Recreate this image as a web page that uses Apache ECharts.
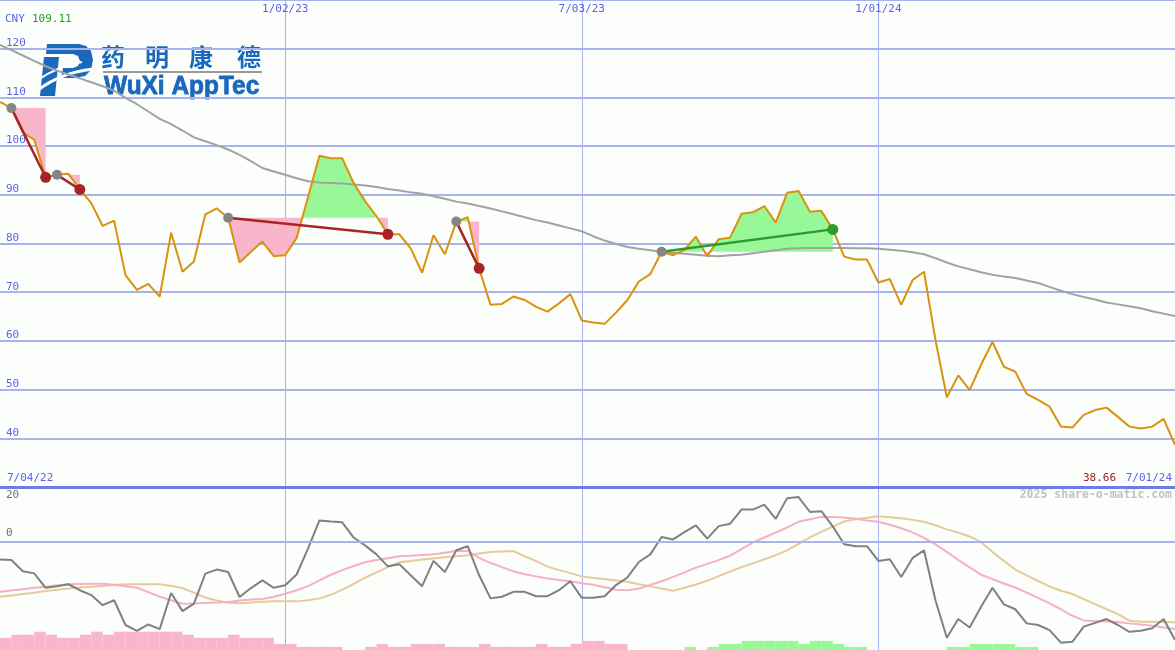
<!DOCTYPE html>
<html><head><meta charset="utf-8">
<script src="https://cdn.jsdelivr.net/npm/echarts@6/dist/echarts.min.js"></script>
<style>html,body{margin:0;padding:0;background:#fcfefc;}#c{width:1175px;height:650px;}</style>
</head><body><div id="c"></div>
<script>
// ---------- DATA ----------
const startDateUTC = Date.UTC(2022, 6, 11); // first weekly point (Monday)
const weekCount = 104;
const dateTickIdx = [25, 51, 77]; // 1/02/23, 7/03/23, 1/01/24

const price = [109.1,107.8,102.8,101.3,93.6,94.1,94.3,91.1,88.3,83.6,
  84.7,73.5,70.5,71.7,69.1,82.2,74.2,76.3,86.0,87.2,
  85.3,76.1,78.3,80.4,77.4,77.6,81.1,89.5,98.0,97.5,
  97.5,92.4,88.7,85.6,81.9,81.9,79.0,74.0,81.7,77.8,
  84.5,85.4,74.9,67.4,67.6,69.1,68.4,67.0,66.0,67.7,
  69.6,64.2,63.8,63.5,65.8,68.4,72.2,73.7,78.3,77.6,
  78.7,81.4,77.4,80.9,81.2,86.1,86.4,87.7,84.3,90.4,
  90.8,86.5,86.7,82.9,77.3,76.7,76.7,72.0,72.7,67.4,
  72.5,74.2,60.2,48.4,52.9,49.9,55.1,59.8,54.7,53.7,
  49.1,47.9,46.5,42.4,42.2,44.8,45.8,46.3,44.4,42.4,
  42.0,42.4,44.0,38.66];

const movingAvg = [120.8,119.7,118.6,117.5,116.4,115.5,114.7,113.9,113.1,112.3,
  111.4,109.9,108.6,107.1,105.6,104.5,103.2,101.8,101.0,100.2,
  99.3,98.2,96.9,95.5,94.8,94.1,93.4,92.8,92.5,92.4,
  92.3,92.1,91.9,91.6,91.2,90.9,90.5,90.2,89.7,89.2,
  88.6,88.2,87.7,87.2,86.6,86.0,85.4,84.8,84.3,83.7,
  83.1,82.5,81.5,80.6,79.9,79.3,78.9,78.6,78.3,78.1,
  77.9,77.7,77.5,77.4,77.6,77.7,78.0,78.3,78.6,78.9,
  79.0,79.1,79.1,79.1,79.1,79.0,79.0,78.9,78.7,78.5,
  78.2,77.8,77.0,76.1,75.3,74.7,74.1,73.6,73.2,72.9,
  72.4,71.9,71.1,70.3,69.6,69.0,68.5,67.9,67.5,67.1,
  66.7,66.1,65.6,65.1];

const momentum = [-6.7,-6.9,-11.0,-11.8,-17.1,-16.5,-15.8,-18.0,-19.8,-23.5,
  -21.7,-30.8,-33.0,-30.6,-32.3,-19.0,-25.7,-22.9,-11.9,-10.4,
  -11.3,-20.5,-17.2,-14.4,-17.1,-16.2,-12.2,-2.7,7.7,7.3,
  7.0,1.4,-1.5,-4.8,-9.2,-8.4,-12.5,-16.5,-7.2,-11.3,
  -3.3,-1.8,-12.5,-21.0,-20.4,-18.6,-18.6,-20.2,-20.2,-18.0,
  -14.7,-20.8,-20.8,-20.2,-16.1,-13.3,-7.6,-4.8,1.6,0.7,
  3.4,5.9,1.0,5.6,6.5,11.7,11.7,13.5,8.3,15.9,
  16.3,10.8,11.1,5.5,-1.1,-1.8,-1.8,-7.2,-6.6,-13.1,
  -6.1,-3.3,-21.7,-35.5,-28.6,-31.7,-24.1,-17.1,-23.2,-25.0,
  -30.2,-30.8,-32.7,-37.3,-37.0,-31.4,-30.0,-28.6,-30.8,-33.3,
  -32.9,-32.0,-28.6,-36.3];

const signalPink = [-18.6,-18.1,-17.6,-17.1,-16.7,-16.2,-15.8,-15.7,-15.6,-15.6,
  -16.0,-16.5,-17.1,-18.7,-20.4,-21.7,-23.0,-22.9,-22.7,-22.5,
  -22.3,-21.8,-21.4,-21.2,-20.4,-19.3,-18.0,-16.5,-14.4,-12.3,
  -10.6,-9.1,-7.7,-6.9,-6.2,-5.5,-5.3,-5.0,-4.8,-4.2,
  -3.6,-3.6,-6.1,-8.0,-9.5,-11.0,-12.1,-12.9,-13.7,-14.2,
  -14.7,-15.4,-16.0,-16.9,-17.8,-18.0,-17.4,-16.1,-14.7,-13.1,
  -11.4,-9.7,-8.3,-6.9,-5.3,-2.9,-0.4,1.4,3.2,5.1,
  7.2,8.1,9.0,9.0,8.8,8.3,7.7,7.2,6.1,4.8,
  3.3,1.3,-1.1,-3.9,-6.8,-9.6,-12.3,-13.9,-15.5,-17.0,
  -18.9,-20.8,-22.8,-25.0,-27.4,-29.1,-29.3,-29.5,-29.7,-30.2,
  -30.6,-31.1,-31.7,-32.3];

const signalTan = [-20.4,-19.9,-19.4,-18.9,-18.3,-17.8,-17.4,-17.0,-16.7,-16.4,
  -16.1,-15.8,-15.8,-15.8,-15.8,-16.4,-17.2,-18.9,-20.7,-21.8,
  -22.6,-22.8,-22.5,-22.2,-22.1,-22.1,-22.1,-21.7,-21.0,-19.7,
  -17.8,-15.7,-13.4,-11.4,-9.5,-7.7,-7.2,-6.7,-6.3,-5.9,
  -5.5,-5.1,-4.5,-3.9,-3.7,-3.6,-5.5,-7.3,-9.3,-10.6,
  -11.7,-12.9,-13.5,-13.9,-14.4,-14.9,-15.8,-16.5,-17.4,-18.2,
  -17.1,-15.9,-14.5,-12.8,-11.1,-9.5,-8.1,-6.6,-5.1,-3.3,
  -0.9,1.5,3.5,5.4,7.3,8.1,8.7,9.2,8.9,8.5,
  7.9,7.2,5.9,4.4,3.2,1.8,-0.3,-3.9,-7.2,-10.4,
  -12.5,-14.6,-16.6,-18.2,-19.4,-21.3,-23.1,-25.0,-26.8,-29.2,
  -29.6,-29.6,-29.7,-29.8];

const histPink = [4,5,5,6,5,4,4,5,6,5,
  6,6,6,6,6,6,5,4,4,4,
  5,4,4,4,2,2,1,1,1,1,
  0,0,1,2,1,1,2,2,2,1,
  1,1,2,1,1,1,1,2,1,1,
  2,3,3,2,2,0,0,0,0,0,
  0,0,0,0,0,0,0,0,0,0,
  0,0,0,0,0,0,0,0,0,0,
  0,0,0,0,0,0,0,0,0,0,
  0,0,0,0,0,0,0,0,0,0,
  0,0,0,0];
const histGreen = [0,0,0,0,0,0,0,0,0,0,
  0,0,0,0,0,0,0,0,0,0,
  0,0,0,0,0,0,0,0,0,0,
  0,0,0,0,0,0,0,0,0,0,
  0,0,0,0,0,0,0,0,0,0,
  0,0,0,0,0,0,0,0,0,0,
  1,0,1,2,2,3,3,3,3,3,
  2,3,3,2,1,1,0,0,0,0,
  0,0,0,1,1,2,2,2,2,1,
  1,0,0,0,0,0,0,0,0,0,
  0,0,0,0];

const tradeEntry = [1, 5, 20, 40, 58];
const tradeExit  = [4, 7, 34, 42, 73];

const currency = 'CNY';
const firstPriceLabel = '109.11';
const lastPriceLabel = '38.66';
const rangeStartLabel = '7/04/22';
const rangeEndLabel = '7/01/24';
const lowerTicks = [0, -40];
const logoChars = ['药', '明', '康', '德'];
const logoCharX = [101, 145, 189, 237];

// ---------- BUILD ----------
function fmtDate(t){const d=new Date(t);return (d.getUTCMonth()+1)+'/'+String(d.getUTCDate()).padStart(2,'0')+'/'+String(d.getUTCFullYear()%100).padStart(2,'0');}
const categories=[];for(let i=0;i<weekCount;i++){categories.push(fmtDate(startDateUTC+i*7*86400000));}

const GRID='#a7b3f1', LBL='#5864e6', PINK='#f9b6ca', GREEN='#98f898', LOGO='#1a69bd', BG='#fcfefc';
const MONO='"DejaVu Sans Mono", monospace';
const isTick=(i)=>dateTickIdx.indexOf(i)>=0;

function tradeFill(params, api){
  const k=params.dataIndex, a=tradeEntry[k], b=tradeExit[k], L=price[a];
  const pts=[];
  for(let i=a;i<=b;i++){
    const p=api.coord([i,price[i]]);
    pts.push({x:p[0],v:price[i]});
    if(i<b){const v0=price[i],v1=price[i+1];
      if((v0-L)*(v1-L)<0){const t=(L-v0)/(v1-v0);const xn=api.coord([i+1,v1])[0];pts.push({x:p[0]+t*(xn-p[0]),v:L});}}
  }
  const yOf=v=>api.coord([a,v])[1];const yL=yOf(L);
  const x0=pts[0].x,x1=pts[pts.length-1].x;
  const g=pts.map(q=>[q.x,yOf(Math.max(q.v,L))]);g.push([x1,yL],[x0,yL]);
  const pk=pts.map(q=>[q.x,yOf(Math.min(q.v,L))]);pk.push([x1,yL],[x0,yL]);
  return {type:'group',children:[
    {type:'polygon',shape:{points:pk},style:{fill:PINK}},
    {type:'polygon',shape:{points:g},style:{fill:GREEN}}]};
}
function tradeMarks(params, api){
  const k=params.dataIndex,a=tradeEntry[k],b=tradeExit[k];
  const p0=api.coord([a,price[a]]),p1=api.coord([b,price[b]]);
  const col=price[b]>price[a]?'#2c9c2c':'#a82424';
  return {type:'group',children:[
    {type:'line',shape:{x1:p0[0],y1:p0[1],x2:p1[0],y2:p1[1]},style:{stroke:col,lineWidth:2.5}},
    {type:'circle',shape:{cx:p0[0],cy:p0[1],r:5},style:{fill:'#858585'}},
    {type:'circle',shape:{cx:p1[0],cy:p1[1],r:5.5},style:{fill:col}}]};
}
function histItem(params, api){
  const i=params.dataIndex;const vp=histPink[i],vg=histGreen[i];
  const v=vp||vg;if(!v)return null;
  const p0=api.coord([i,0]),p1=api.coord([i,v]);const w=api.size([1,0])[0];
  return {type:'rect',shape:{x:p0[0],y:p1[1],width:w,height:p0[1]-p1[1]},style:{fill:vp?PINK:GREEN}};
}

const logoGraphics=[
  {type:'polygon',shape:{points:[[47,44],[79,44],[86,46],[91,51],[93,60],[91,70],[85,76],[75,78],[61,78],[63,68],[73,68],[78,66],[80,61],[78,56],[73,54],[46,54]]},style:{fill:LOGO}},
  {type:'polygon',shape:{points:[[44,57],[59,57],[55,96],[40,96]]},style:{fill:LOGO}},
  {type:'bezierCurve',shape:{x1:38,y1:90,cpx1:62,cpy1:72,x2:94,y2:69},style:{stroke:BG,lineWidth:3,fill:null}},
  {type:'bezierCurve',shape:{x1:38,y1:80,cpx1:58,cpy1:66,x2:82,y2:62},style:{stroke:BG,lineWidth:2,fill:null}},
  {type:'rect',shape:{x:103,y:71,width:159,height:2},style:{fill:'#9a9a9a'}},
  {type:'text',x:104,y:74,scaleX:0.94,style:{text:'WuXi AppTec',fill:LOGO,stroke:LOGO,lineWidth:0.8,font:'bold 26px "Liberation Sans"'}}
].concat(logoChars.map((c,i)=>({type:'text',x:logoCharX[i],y:45,style:{text:c,fill:LOGO,font:'bold 24px "Noto Sans CJK SC"'}})));

const chart=echarts.init(document.getElementById('c'),null,{renderer:'canvas'});
const option={
  animation:false,
  backgroundColor:BG,
  grid:[{left:0,right:0,top:-1,height:488},{left:0,right:0,top:487,height:163}],
  xAxis:[
    {type:'category',gridIndex:0,data:categories,boundaryGap:false,position:'top',
     axisLine:{show:false},axisTick:{show:false},
     axisLabel:{inside:true,interval:(i)=>isTick(i),margin:4,color:LBL,fontFamily:MONO,fontSize:11},
     splitLine:{show:true,interval:(i)=>isTick(i),lineStyle:{color:GRID,width:1}}},
    {type:'category',gridIndex:1,data:categories,boundaryGap:false,
     axisLine:{show:false},axisTick:{show:false},axisLabel:{show:false},
     splitLine:{show:true,interval:(i)=>isTick(i),lineStyle:{color:GRID,width:1}}}
  ],
  yAxis:[
    {type:'value',gridIndex:0,min:30,max:130,interval:10,axisLine:{show:false},axisTick:{show:false},
     axisLabel:{inside:true,showMinLabel:false,showMaxLabel:false,verticalAlign:'bottom',margin:6,color:LBL,fontFamily:MONO,fontSize:11},
     splitLine:{show:true,lineStyle:{color:GRID,width:2}}},
    {type:'value',gridIndex:1,min:-40,max:20,interval:20,axisLine:{show:false},axisTick:{show:false},
     axisLabel:{inside:true,showMaxLabel:false,verticalAlign:'bottom',margin:6,padding:[0,0,3,0],color:'#707070',fontFamily:MONO,fontSize:11,
       formatter:(v)=>lowerTicks.indexOf(v)>=0?String(v):''},
     splitLine:{show:false}},
    {type:'value',gridIndex:1,min:0,max:53.4,show:false}
  ],
  series:[
    {type:'custom',xAxisIndex:0,yAxisIndex:0,z:1,renderItem:tradeFill,data:tradeEntry.map(a=>[a,price[a]]),silent:true},
    {type:'line',xAxisIndex:0,yAxisIndex:0,z:2,data:movingAvg,symbol:'none',lineStyle:{color:'#a2a2a2',width:2},silent:true},
    {type:'line',xAxisIndex:0,yAxisIndex:0,z:3,data:price,symbol:'none',lineStyle:{color:'#d8920c',width:2},silent:true,
     markLine:{silent:true,symbol:'none',label:{show:false},data:[{yAxis:30}],lineStyle:{color:'#6e7ce8',width:3,type:'solid'}}},
    {type:'custom',xAxisIndex:0,yAxisIndex:0,z:5,renderItem:tradeMarks,data:tradeEntry.map(a=>[a,price[a]]),silent:true},
    {type:'custom',xAxisIndex:1,yAxisIndex:2,z:1,renderItem:histItem,data:histPink.map((v,i)=>[i,v||histGreen[i]]),silent:true},
    {type:'line',xAxisIndex:1,yAxisIndex:1,z:2,data:signalTan,symbol:'none',lineStyle:{color:'#e5cb9b',width:2},silent:true},
    {type:'line',xAxisIndex:1,yAxisIndex:1,z:3,data:signalPink,symbol:'none',lineStyle:{color:'#f7aec6',width:2},silent:true},
    {type:'line',xAxisIndex:1,yAxisIndex:1,z:4,data:momentum,symbol:'none',lineStyle:{color:'#808080',width:2},silent:true,
     markLine:{silent:true,symbol:'none',label:{show:false},data:[{yAxis:0}],lineStyle:{color:GRID,width:2,type:'solid'}}}
  ],
  graphic:[
    {type:'text',left:5,top:14,style:{text:currency,fill:LBL,font:'11px '+MONO}},
    {type:'text',left:32,top:14,style:{text:firstPriceLabel,fill:'#22a022',font:'11px '+MONO}},
    {type:'text',left:7,top:473,style:{text:rangeStartLabel,fill:LBL,font:'11px '+MONO}},
    {type:'text',right:3,top:473,style:{text:rangeEndLabel,fill:LBL,font:'11px '+MONO}},
    {type:'text',left:1083,top:473,style:{text:lastPriceLabel,fill:'#a02020',font:'11px '+MONO}},
    {type:'text',right:3,top:489,style:{text:'2025 share-o-matic.com',fill:'#c2c2c2',font:'bold 11.5px '+MONO}},
    {type:'text',left:6,top:490,style:{text:'20',fill:'#707070',font:'11px '+MONO}},
    {type:'group',x:0,y:0,children:logoGraphics}
  ]
};
chart.setOption(option);
</script></body></html>
